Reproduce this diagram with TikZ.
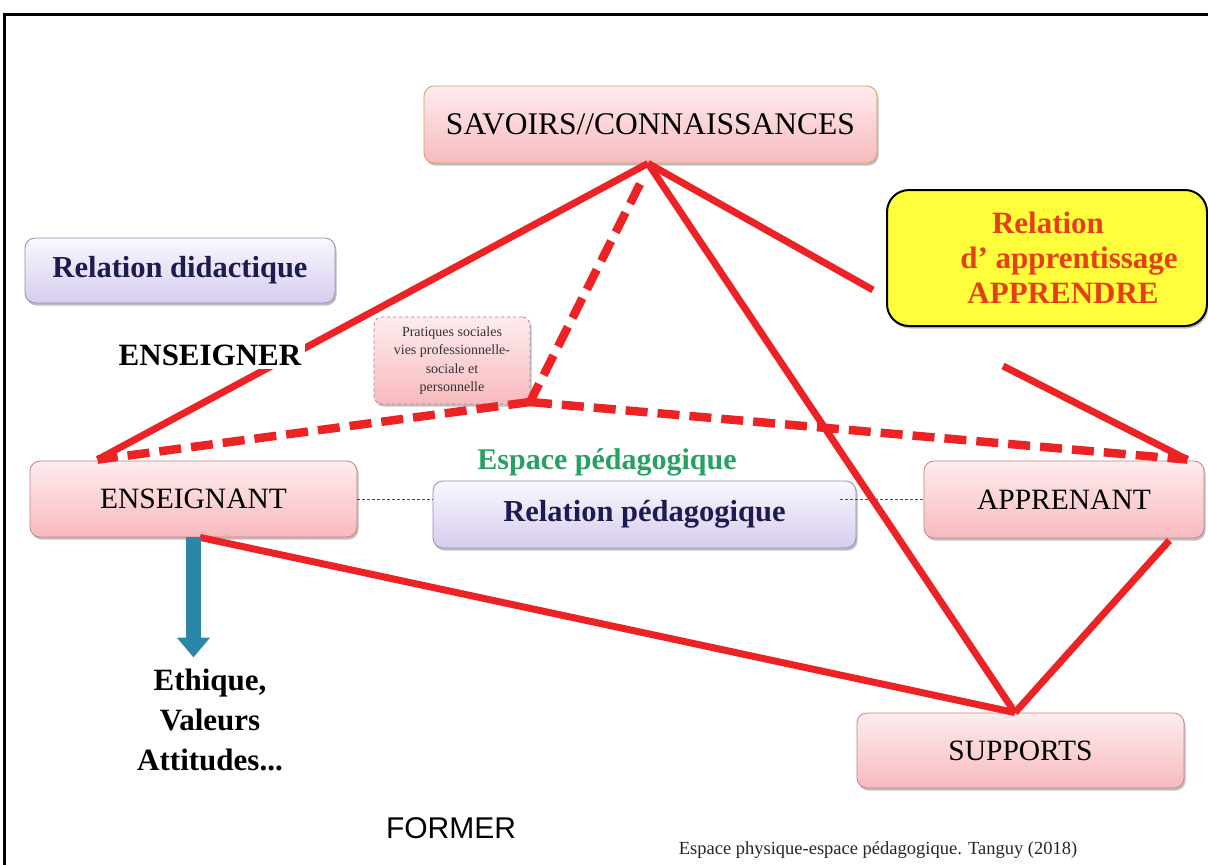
\documentclass[tikz,border=0pt]{standalone}
\usepackage{fontspec}
\setmainfont{Liberation Serif}
\newfontfamily\arialf{Liberation Sans}
\usetikzlibrary{arrows.meta,shadows}
\definecolor{redl}{RGB}{236,34,36}
\definecolor{pinktop}{RGB}{253,236,238}
\definecolor{pinkbot}{RGB}{248,186,190}
\definecolor{pinkedge}{RGB}{200,130,130}
\definecolor{savedge}{RGB}{214,160,96}
\definecolor{lavtop}{RGB}{250,248,254}
\definecolor{lavbot}{RGB}{214,204,238}
\definecolor{lavedge}{RGB}{150,140,180}
\definecolor{navy}{RGB}{28,28,80}
\definecolor{greent}{RGB}{40,160,100}
\definecolor{yell}{RGB}{255,255,60}
\definecolor{orred}{RGB}{232,62,24}
\definecolor{bluea}{RGB}{44,134,168}
\begin{document}
\begin{tikzpicture}[x=1pt,y=-1pt,
  shad/.style={drop shadow={shadow xshift=1.5pt,shadow yshift=-2.5pt,opacity=0.25,fill=black}},
  pinkbox/.style={shad,draw=pinkedge,line width=0.8pt,rounded corners=10pt,top color=pinktop,bottom color=pinkbot,inner sep=0pt,font=\fontsize{29.5}{33}\selectfont},
  lavbox/.style={shad,draw=lavedge,line width=0.8pt,rounded corners=10pt,top color=lavtop,bottom color=lavbot,inner sep=0pt,text=navy,font=\bfseries\fontsize{30.5}{34}\selectfont},
  redline/.style={draw=redl,line width=7pt},
  reddash/.style={draw=redl,line width=8.5pt,dash pattern=on 22pt off 10pt},
  dotline/.style={draw=black!70,line width=0.8pt,densely dashed},
  boldlabel/.style={font=\bfseries\fontsize{31}{40}\selectfont,align=center}
]
\useasboundingbox (0,0) rectangle (1208,865);
\fill[white] (0,0) rectangle (1208,865);
\draw[line width=3pt] (4,865) -- (4,14) -- (1208,14);

% boxes
\node[pinkbox,draw=savedge,minimum width=453pt,minimum height=77pt,font=\fontsize{31.5}{35}\selectfont] (sav) at (650.5,124.5) {SAVOIRS//CONNAISSANCES};
\node[lavbox,minimum width=310pt,minimum height=65pt] (reldid) at (180,270.5) {Relation didactique};
\node[pinkbox,minimum width=327pt,minimum height=76pt] (ens) at (193.5,499) {ENSEIGNANT};
\node[lavbox,minimum width=423pt,minimum height=67pt] (relped) at (644.5,514.5) {Relation pédagogique};
\node[pinkbox,minimum width=280pt,minimum height=77pt] (app) at (1064,499.5) {APPRENANT};
\node[pinkbox,minimum width=327pt,minimum height=75pt] (sup) at (1020.5,750.5) {SUPPORTS};
\node[pinkbox,dashed,draw=pinkedge!90!black,line width=0.7pt,rounded corners=8pt,minimum width=156pt,minimum height=87pt,align=center,font=\fontsize{14}{18.5}\selectfont,text=black!80] (prat) at (452,360.5) {Pratiques sociales\\vies professionnelle-\\sociale et\\personnelle};
\node[shad,draw=black,line width=2pt,fill=yell,rounded corners=22pt,minimum width=320pt,minimum height=136pt,align=center,text=orred,font=\bfseries\fontsize{31}{35}\selectfont] (yel) at (1047,258) {\hspace*{2pt}Relation\\\hspace*{44pt}d’ apprentissage\\\hspace*{32pt}APPRENDRE};

% text labels
\node[text=greent,font=\bfseries\fontsize{30}{34}\selectfont] (esp) at (607,462) {Espace pédagogique};
\node[boldlabel] (eth) at (210,720) {Ethique,\\Valeurs\\Attitudes...};
\node[font=\arialf\fontsize{30}{34}\selectfont] (former) at (451,828) {FORMER};
\node[font=\fontsize{18.5}{21}\selectfont,text=black!85] (cap) at (878,850) {Espace physique-espace pédagogique. Tanguy (2018)};

% anchor coordinates
\coordinate (apex) at ([xshift=-2.5pt]sav.south);
\coordinate (dstart) at (640,184);
\coordinate (P) at (530,402);
\coordinate (ensTL) at ([xshift=68pt,yshift=1pt]ens.north west);
\coordinate (appTR) at ([xshift=-17pt,yshift=1pt]app.north east);
\coordinate (supT) at ([xshift=-5.5pt]sup.north);
\coordinate (ensB) at ([xshift=6.5pt]ens.south);
\coordinate (appB) at ([xshift=-35pt,yshift=-2pt]app.south east);
\coordinate (yend) at (873,290);
\coordinate (yrest) at (1003,366);

% connectors
\draw[dotline] (ens.east) -- (ens.east -| relped.west);
\draw[dotline] ([xshift=-16pt]relped.east |- app.west) -- (app.west);
\draw[redline] (apex) -- (ensTL);
\draw[redline] (apex) -- (supT);
\draw[redline] (apex) -- (yend);
\draw[redline] (yrest) -- (appTR);
\draw[redline] (ensB) -- (supT);
\draw[redline] (appB) -- (supT);
\draw[reddash] (dstart) -- (P);
\draw[reddash] (P) -- (ensTL);
\draw[reddash] (P) -- (appTR);
\draw[bluea,line width=15pt,-{Triangle[width=32pt,length=20pt]}] (ens.south) -- ([yshift=8pt]ens.south |- eth.north);

% label that interrupts the red line
\node[fill=white,inner sep=4pt,font=\bfseries\fontsize{31}{35}\selectfont] (enseigner) at (210,355) {ENSEIGNER};
\end{tikzpicture}
\end{document}
